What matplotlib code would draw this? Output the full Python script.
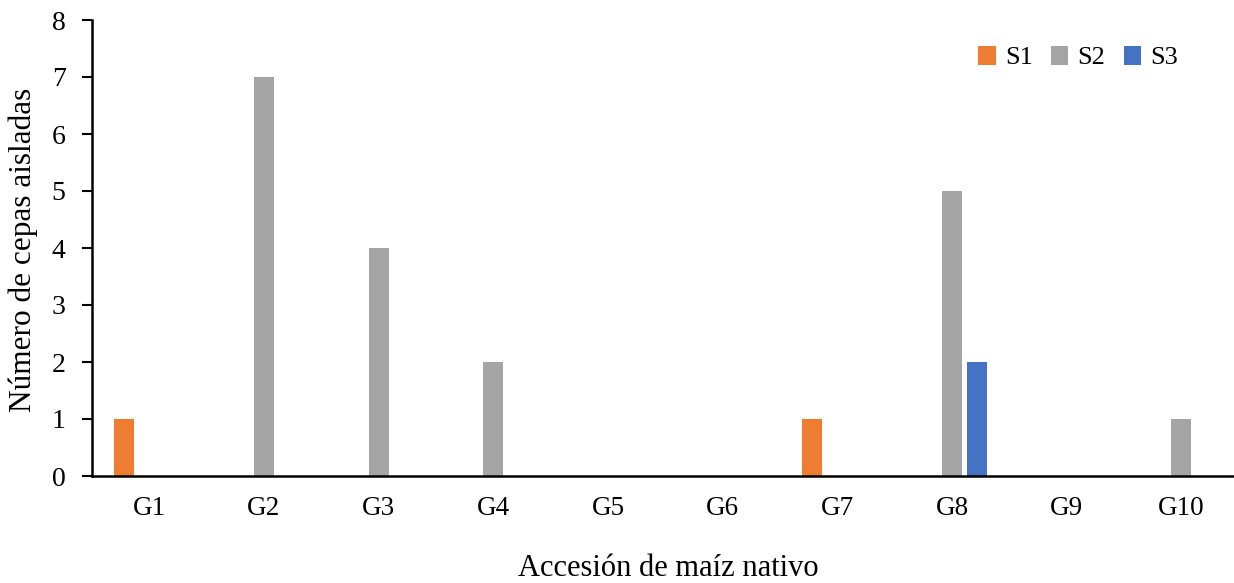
import numpy as np
import matplotlib
matplotlib.use("Agg")
import matplotlib.pyplot as plt

plt.rcParams['font.family'] = ['Liberation Serif', 'DejaVu Serif']

groups = ['G1', 'G2', 'G3', 'G4', 'G5', 'G6', 'G7', 'G8', 'G9', 'G10']
s1 = [1, 0, 0, 0, 0, 0, 1, 0, 0, 0]
s2 = [0, 7, 4, 2, 0, 0, 0, 5, 0, 1]
s3 = [0, 0, 0, 0, 0, 0, 0, 2, 0, 0]
series_names = ['S1', 'S2', 'S3']
colors = ['#ED7D31', '#A5A5A5', '#4472C4']

W, H = 1234, 583
fig = plt.figure(figsize=(W / 100, H / 100), dpi=100)
ax = fig.add_axes([92 / W, 107 / H, 1142 / W, 456 / H])

x = np.arange(len(groups))
width = 0.174
offset = 0.222
for i, (vals, name, c) in enumerate(zip([s1, s2, s3], series_names, colors)):
    ax.bar(x + (i - 1) * offset, vals, width, color=c, label=name, zorder=2)

ax.set_xlim(-0.5, 9.46)
ax.set_ylim(0, 8)
ax.set_yticks(range(0, 9))
ax.set_xticks(x)
ax.set_xticklabels(groups)
ax.tick_params(axis='x', length=0, pad=14.5, labelsize=19.5)
ax.tick_params(axis='y', length=7, width=1.5, direction='out', pad=12, labelsize=20)

for s in ['top', 'right']:
    ax.spines[s].set_visible(False)
for s in ['left', 'bottom']:
    ax.spines[s].set_linewidth(1.8)
    ax.spines[s].set_color('black')

# axis titles placed in figure pixels
fig.text(668 / W, 7 / H, 'Accesión de maíz nativo', fontsize=22,
         ha='center', va='baseline')
fig.text(23 / W, (H - 250) / H, 'Número de cepas aisladas', fontsize=22.5,
         rotation=90, ha='center', va='center')

ax.legend(loc='upper right', bbox_to_anchor=(0.951, 0.944), ncol=3, frameon=False,
          fontsize=19, handlelength=0.65, handleheight=0.75, handletextpad=0.35,
          columnspacing=0.7, borderpad=0, borderaxespad=0)

fig.savefig('out.png', dpi=100)
